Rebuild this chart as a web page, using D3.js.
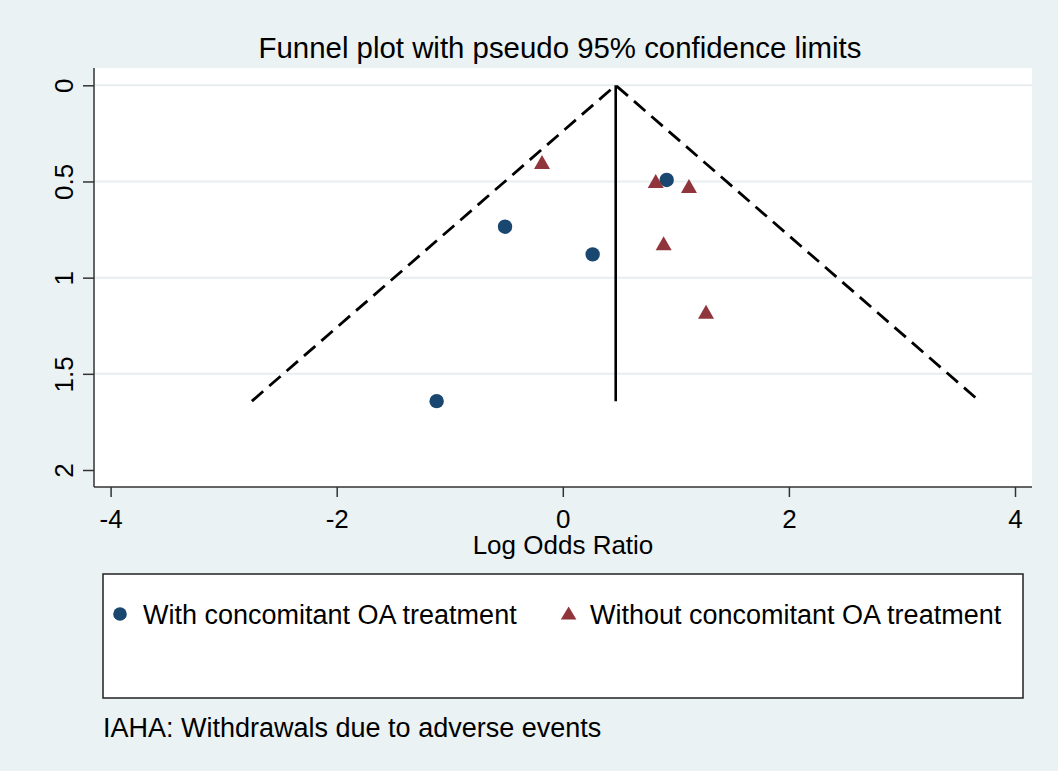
<!DOCTYPE html>
<html>
<head>
<meta charset="utf-8">
<script src="https://cdn.jsdelivr.net/npm/d3@7"></script>
<style>
  html, body { margin: 0; padding: 0; background: #eaf2f3; }
  svg { display: block; font-family: "Liberation Sans", Arial, sans-serif; }
</style>
</head>
<body>
<svg id="chart" width="1058" height="771"></svg>
<script>
// Funnel plot data
const withLogOR = [0.919, -0.511, 0.264, -1.116];
const withSE = [0.492, 0.735, 0.879, 1.642];
const withoutLogOR = [-0.184, 0.822, 1.116, 0.892, 1.267];
const withoutSE = [0.399, 0.498, 0.524, 0.821, 1.177];

const pooled = 0.468;
const maxSE = 1.642;

const xTicks = [-4, -2, 0, 2, 4];
const yTicks = [0, 0.5, 1, 1.5, 2];
const gridTicks = [0, 0.5, 1, 1.5];

const legendLabels = ["With concomitant OA treatment", "Without concomitant OA treatment"];
const titleText = "Funnel plot with pseudo 95% confidence limits";
const xTitle = "Log Odds Ratio";
const noteText = "IAHA: Withdrawals due to adverse events";

const navy = "#1a476f";
const maroon = "#90353b";

const svg = d3.select("#chart");

// plot region
const plot = { left: 94, right: 1032, top: 68, bottom: 487 };

const x = d3.scaleLinear().domain([-4, 4]).range([110.6, 1015]);
const y = d3.scaleLinear().domain([0, 2]).range([85.3, 470]);

svg.append("rect")
    .attr("x", plot.left).attr("y", plot.top)
    .attr("width", plot.right - plot.left)
    .attr("height", plot.bottom - plot.top)
    .attr("fill", "#ffffff");

// gridlines
svg.append("g").selectAll("line")
    .data(gridTicks)
    .join("line")
    .attr("x1", plot.left).attr("x2", plot.right)
    .attr("y1", d => y(d)).attr("y2", d => y(d))
    .attr("stroke", "#e6eef0")
    .attr("stroke-width", 2);

// title
svg.append("text")
    .attr("x", 560).attr("y", 58)
    .attr("text-anchor", "middle")
    .attr("font-size", "29.4px")
    .attr("fill", "#000")
    .text(titleText);

// funnel lines
const lineGen = d3.line().x(d => x(d[0])).y(d => y(d[1]));
svg.append("path")
    .attr("d", lineGen([[pooled - 1.96 * maxSE, maxSE], [pooled, 0], [pooled + 1.96 * maxSE, maxSE]]))
    .attr("fill", "none")
    .attr("stroke", "#000")
    .attr("stroke-width", 2.8)
    .attr("stroke-dasharray", "15,8");

svg.append("path")
    .attr("d", lineGen([[pooled, 0], [pooled, maxSE]]))
    .attr("fill", "none")
    .attr("stroke", "#000")
    .attr("stroke-width", 2.6);

// markers
const triPath = "M0,-7L8,7L-8,7Z";

svg.append("g").selectAll("circle")
    .data(withLogOR.map((v, i) => [v, withSE[i]]))
    .join("circle")
    .attr("cx", d => x(d[0]))
    .attr("cy", d => y(d[1]))
    .attr("r", 7.2)
    .attr("fill", navy);

svg.append("g").selectAll("path")
    .data(withoutLogOR.map((v, i) => [v, withoutSE[i]]))
    .join("path")
    .attr("d", triPath)
    .attr("transform", d => `translate(${x(d[0])},${y(d[1])})`)
    .attr("fill", maroon);

// y axis
const yAxis = svg.append("g")
    .attr("transform", `translate(${plot.left},0)`)
    .call(d3.axisLeft(y).tickValues(yTicks).tickSize(11).tickFormat(d3.format("")));
yAxis.select(".domain").remove();
yAxis.selectAll(".tick line").attr("stroke", "#333").attr("stroke-width", 1.5);
yAxis.selectAll(".tick text")
    .attr("transform", "rotate(-90)")
    .attr("x", 0).attr("y", -21).attr("dy", 0)
    .attr("text-anchor", "middle")
    .attr("font-size", "26px")
    .attr("font-family", "Liberation Sans, Arial, sans-serif")
    .attr("fill", "#000");

// x axis
const xAxis = svg.append("g")
    .attr("transform", `translate(0,${plot.bottom})`)
    .call(d3.axisBottom(x).tickValues(xTicks).tickSize(10).tickFormat(d3.format("")));
xAxis.select(".domain").remove();
xAxis.selectAll(".tick line").attr("stroke", "#333").attr("stroke-width", 1.5);
xAxis.selectAll(".tick text")
    .attr("y", 41).attr("dy", 0)
    .attr("font-size", "26px")
    .attr("font-family", "Liberation Sans, Arial, sans-serif")
    .attr("fill", "#000")
    .text(d => d < 0 ? "-" + Math.abs(d) : d);

// axis lines
svg.append("line")
    .attr("x1", plot.left).attr("x2", plot.left)
    .attr("y1", plot.top).attr("y2", plot.bottom)
    .attr("stroke", "#333").attr("stroke-width", 1.5);
svg.append("line")
    .attr("x1", plot.left).attr("x2", plot.right)
    .attr("y1", plot.bottom).attr("y2", plot.bottom)
    .attr("stroke", "#333").attr("stroke-width", 1.5);

svg.append("text")
    .attr("x", 563).attr("y", 554)
    .attr("text-anchor", "middle")
    .attr("font-size", "26px")
    .attr("fill", "#000")
    .text(xTitle);

// legend
svg.append("rect")
    .attr("x", 103).attr("y", 574)
    .attr("width", 920).attr("height", 124)
    .attr("fill", "#fff")
    .attr("stroke", "#222")
    .attr("stroke-width", 1.5);

const legendX = [120, 568.6];
const legend = svg.append("g").selectAll("g")
    .data(legendLabels)
    .join("g")
    .attr("transform", (d, i) => `translate(${legendX[i]},614)`);

legend.filter((d, i) => i === 0).append("circle")
    .attr("r", 6.8).attr("fill", navy);
legend.filter((d, i) => i === 1).append("path")
    .attr("d", "M0,-6.5L7.8,6.5L-7.8,6.5Z")
    .attr("transform", "translate(0,-1)")
    .attr("fill", maroon);
legend.append("text")
    .attr("x", (d, i) => i === 0 ? 23 : 21.4)
    .attr("y", 10)
    .attr("font-size", "27px")
    .attr("fill", "#000")
    .text(d => d);

// note
svg.append("text")
    .attr("x", 103).attr("y", 737)
    .attr("font-size", "27px")
    .attr("fill", "#000")
    .text(noteText);
</script>
</body>
</html>
